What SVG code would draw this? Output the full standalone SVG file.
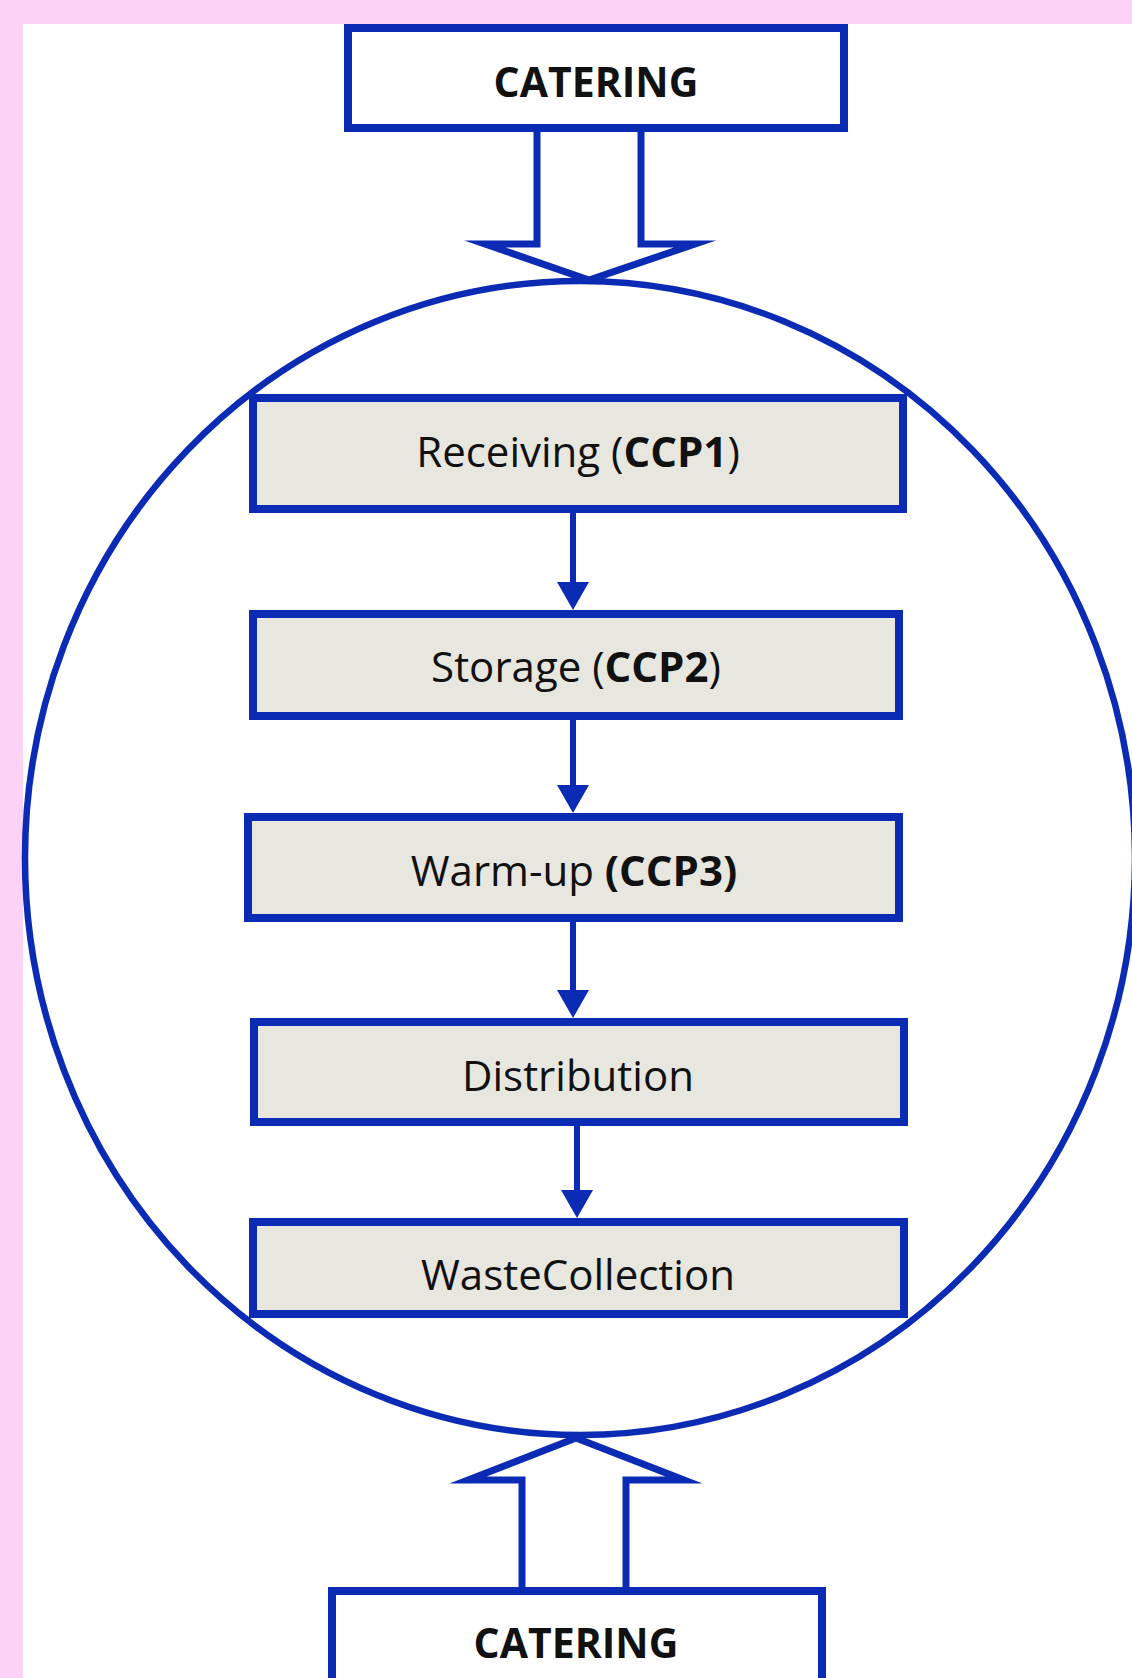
<svg xmlns="http://www.w3.org/2000/svg" width="1132" height="1678" viewBox="0 0 1132 1678">
  <style>
    .box { fill: #e7e6df; stroke: #0b2bb5; stroke-width: 8; }
    .cat { fill: #ffffff; stroke: #0b2bb5; stroke-width: 8; }
    .lbl { font-family: "Open Sans", "Liberation Sans", sans-serif; font-size: 42px; fill: #111111; text-anchor: middle; }
    .catlbl { font-family: "Open Sans", "Liberation Sans", sans-serif; font-size: 41px; font-weight: bold; fill: #111111; text-anchor: middle; }
    .b { font-weight: bold; }
    .conn { stroke: #0b2bb5; stroke-width: 6; fill: none; }
    .block { fill: #ffffff; stroke: #0b2bb5; stroke-width: 7; stroke-linejoin: miter; stroke-miterlimit: 10; }
  </style>
  <defs>
    <marker id="ah" viewBox="0 0 28 32" refX="14" refY="16" markerWidth="28" markerHeight="32" markerUnits="userSpaceOnUse" orient="auto">
      <path d="M0,0 L28,16 L0,32 z" fill="#0b2bb5"/>
    </marker>
  </defs>

  <rect x="0" y="0" width="1132" height="1678" fill="#fcd2f6"/>
  <rect x="23" y="24" width="1109" height="1654" fill="#ffffff"/>

  <g id="connectors">
    <polygon class="block" points="537,128 537,244 485,244 589,280 695,244 641,244 641,128"/>
    <polygon class="block" points="522,1591 522,1480 468,1480 576,1438 684,1480 626,1480 626,1591"/>
    <path class="conn" d="M573,513 L573,596" marker-end="url(#ah)"/>
    <path class="conn" d="M573,720 L573,799" marker-end="url(#ah)"/>
    <path class="conn" d="M573,922 L573,1004" marker-end="url(#ah)"/>
    <path class="conn" d="M577,1126 L577,1204" marker-end="url(#ah)"/>
  </g>

  <g id="boundary">
    <ellipse cx="580" cy="858" rx="555" ry="577" fill="none" stroke="#0b2bb5" stroke-width="6.5"/>
  </g>

  <g id="catering-top">
    <rect class="cat" x="348" y="28" width="496" height="100"/>
    <text class="catlbl" x="596" y="97">CATERING</text>
  </g>

  <g id="receiving">
    <rect class="box" x="253" y="398" width="650" height="111"/>
    <text class="lbl" x="578" y="467">Receiving (<tspan class="b">CCP1</tspan>)</text>
  </g>

  <g id="storage">
    <rect class="box" x="253" y="614" width="646" height="102"/>
    <text class="lbl" x="576" y="682">Storage (<tspan class="b">CCP2</tspan>)</text>
  </g>

  <g id="warmup">
    <rect class="box" x="248" y="817" width="651" height="101"/>
    <text class="lbl" x="574" y="886">Warm-up <tspan class="b">(CCP3)</tspan></text>
  </g>

  <g id="distribution">
    <rect class="box" x="254" y="1022" width="650" height="100"/>
    <text class="lbl" x="578" y="1091">Distribution</text>
  </g>

  <g id="wastecollection">
    <rect class="box" x="253" y="1222" width="651" height="92"/>
    <text class="lbl" x="578" y="1290">WasteCollection</text>
  </g>

  <g id="catering-bottom">
    <rect class="cat" x="332" y="1591" width="490" height="120"/>
    <text class="catlbl" x="576" y="1658">CATERING</text>
  </g>
</svg>
